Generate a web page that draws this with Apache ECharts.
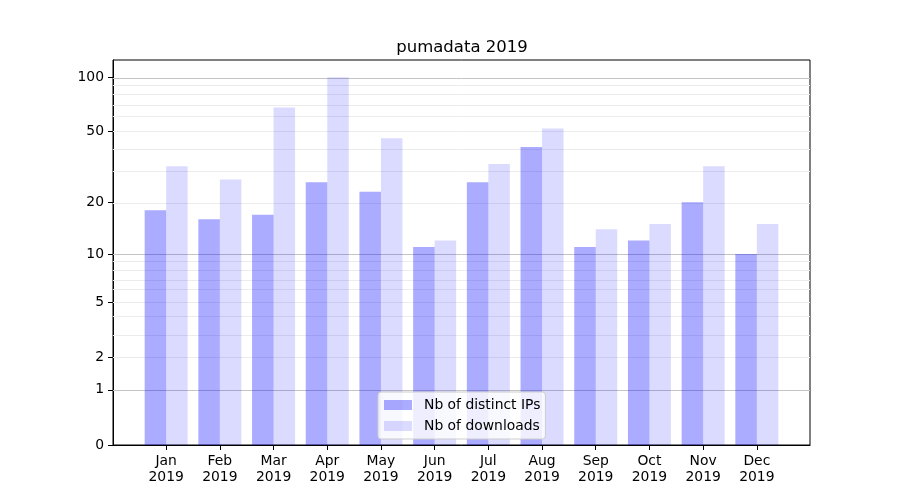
<!DOCTYPE html>
<html>
<head>
<meta charset="utf-8">
<script src="https://cdn.jsdelivr.net/npm/echarts@6/dist/echarts.min.js"></script>
<style>html,body{margin:0;padding:0;background:#fff}#c{width:900px;height:500px}</style>
</head>
<body>
<div id="c"></div>
<script>
var months = ['Jan','Feb','Mar','Apr','May','Jun','Jul','Aug','Sep','Oct','Nov','Dec'];
var yearLabel = '2019';
var distinctIPs = [18, 16, 17, 26, 23, 11, 26, 41, 11, 12, 20, 10];
var downloads = [32, 27, 68, 100, 46, 12, 33, 52, 14, 15, 32, 15];
var yTickLabels = [0, 1, 2, 5, 10, 20, 50, 100];
var majorGrid = [1, 10, 100];
var minorGrid = [2, 3, 4, 5, 6, 7, 8, 9, 20, 30, 40, 50, 60, 70, 80, 90];

function fwd(v) { return Math.log10(v + 1); }
function inv(t) { return Math.pow(10, t) - 1; }

var FONT = 'DejaVu Sans';
var positions = months.map(function (m, i) { return i; });

var gridLines = majorGrid.map(function (v) {
  return { yAxis: fwd(v), lineStyle: { color: '#c4c4c4', width: 1, type: 'solid' } };
}).concat(minorGrid.map(function (v) {
  return { yAxis: fwd(v), lineStyle: { color: '#ececec', width: 1, type: 'solid' } };
}));

var chart = echarts.init(document.getElementById('c'), null, { renderer: 'canvas' });
chart.setOption({
  animation: false,
  backgroundColor: '#ffffff',
  title: {
    text: 'pumadata 2019',
    left: 457,
    top: 34,
    textAlign: 'center',
    textStyle: { fontFamily: FONT, fontSize: 16.5, fontWeight: 'normal', color: '#000' }
  },
  grid: {
    left: 113, right: 90, top: 60, bottom: 55,
    show: true, borderColor: '#000', borderWidth: 1, backgroundColor: 'transparent'
  },
  legend: {
    data: ['Nb of distinct IPs', 'Nb of downloads'],
    orient: 'vertical',
    left: 378,
    top: 392,
    itemWidth: 28,
    itemHeight: 10,
    itemGap: 5,
    padding: [5, 5, 5, 6],
    backgroundColor: 'rgba(255,255,255,0.8)',
    borderColor: '#cccccc',
    borderWidth: 1,
    borderRadius: 3,
    icon: 'rect',
    textStyle: { fontFamily: FONT, fontSize: 13.9, color: '#000', lineHeight: 16, padding: [0, 0, 0, 7] }
  },
  xAxis: {
    type: 'value',
    min: -0.99,
    max: 11.99,
    splitLine: { show: false },
    axisLine: { show: true, onZero: false, lineStyle: { color: '#000', width: 1 } },
    axisTick: { show: true, length: 5, customValues: positions, lineStyle: { color: '#000' } },
    axisLabel: {
      customValues: positions,
      margin: 8,
      fontFamily: FONT, fontSize: 13.9, color: '#000', lineHeight: 16,
      formatter: function (v) { return months[Math.round(v)] + '\n' + yearLabel; }
    }
  },
  yAxis: {
    type: 'value',
    min: 0,
    max: 2.098,
    splitLine: { show: false },
    axisLine: { show: true, onZero: false, lineStyle: { color: '#000', width: 1 } },
    axisTick: { show: true, length: 5, customValues: yTickLabels.map(fwd), lineStyle: { color: '#000' } },
    axisLabel: {
      customValues: yTickLabels.map(fwd),
      margin: 9,
      fontFamily: FONT, fontSize: 13.9, color: '#000',
      formatter: function (v) { return String(Math.round(inv(v))); }
    }
  },
  series: [
    {
      name: 'Nb of distinct IPs',
      type: 'bar',
      z: 2,
      barWidth: 21.5,
      barGap: '0%',
      itemStyle: { color: 'rgba(0,0,255,0.33)' },
      data: distinctIPs.map(function (v, i) { return [positions[i], fwd(v)]; }),
      markLine: {
        silent: true,
        z: 1,
        symbol: ['none', 'none'],
        label: { show: false },
        animation: false,
        data: gridLines
      }
    },
    {
      name: 'Nb of downloads',
      type: 'bar',
      z: 2,
      barWidth: 21.5,
      barGap: '0%',
      itemStyle: { color: 'rgba(0,0,255,0.14)' },
      data: downloads.map(function (v, i) { return [positions[i], fwd(v)]; })
    }
  ]
});
</script>
</body>
</html>
